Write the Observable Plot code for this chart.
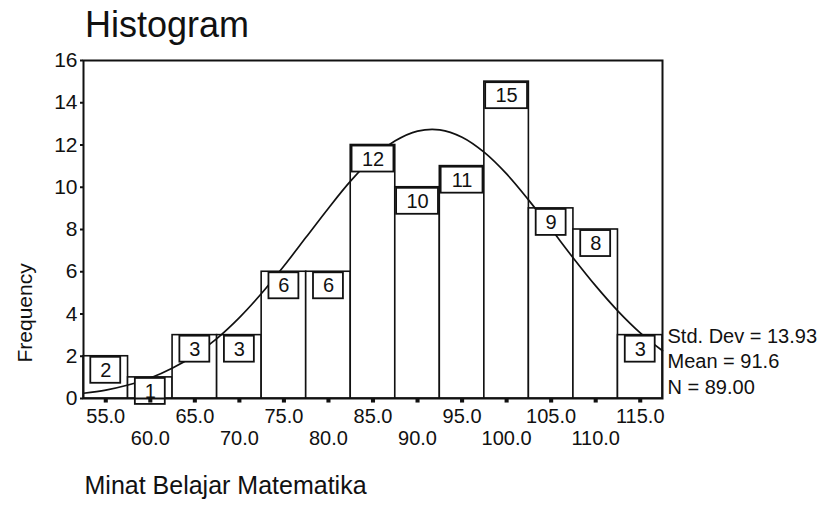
<!DOCTYPE html>
<html>
<head>
<meta charset="utf-8">
<script src="https://cdn.jsdelivr.net/npm/d3@7"></script>
<script src="https://cdn.jsdelivr.net/npm/@observablehq/plot@0.6"></script>
<style>
  body { margin: 0; background: white; font-family: "Liberation Sans", Arial, sans-serif; }
  #wrap { width: 833px; height: 507px; position: relative; overflow: hidden; }
  #title { height: 48px; position: relative; }
  #title span { position: absolute; left: 85px; top: 7px; font-size: 36px; line-height: 1; color: #111; }
</style>
</head>
<body>
<div id="wrap">
  <div id="title"><span>Histogram</span></div>
  <div id="chart"></div>
</div>
<script>
// ---- data ----
const binCenters = [55, 60, 65, 70, 75, 80, 85, 90, 95, 100, 105, 110, 115];
const counts     = [2, 1, 3, 3, 6, 6, 12, 10, 11, 15, 9, 8, 3];
const binWidth = 5;

const xTicksRow1 = [55, 65, 75, 85, 95, 105, 115];
const xTicksRow2 = [60, 70, 80, 90, 100, 110];
const yTicks = [0, 2, 4, 6, 8, 10, 12, 14, 16];

// normal curve
const curveX = [52.5, 55, 57.5, 60, 62.5, 65, 67.5, 70, 72.5, 75, 77.5, 80, 82.5, 85, 87.5, 90, 92.5, 95, 97.5, 100, 102.5, 105, 107.5, 110, 112.5, 115, 117.5];
const curveY = [0.25, 0.40, 0.64, 0.97, 1.44, 2.06, 2.85, 3.83, 4.98, 6.27, 7.64, 9.01, 10.30, 11.39, 12.20, 12.66, 12.72, 12.37, 11.65, 10.63, 9.38, 8.02, 6.64, 5.33, 4.14, 3.11, 2.26];

const statNames  = ["Std. Dev", "Mean", "N"];
const statValues = ["13.93", "91.6", "89.00"];

const yLabel = "Frequency";
const xLabel = "Minat Belajar Matematika";

// ---- build tables ----
const bars = binCenters.map((c, i) => ({center: c, count: counts[i]}));
const curve = curveX.map((x, i) => ({x, y: curveY[i]}));
const statsText = statNames.map((n, i) => `${n} = ${statValues[i]}`).join("\n");

const boxHalf = d => (String(d.count).length > 1 ? 2.35 : 1.68);
const boxHeight = 1.28;

const chart = Plot.plot({
  width: 833,
  height: 459,
  marginTop: 12,
  marginBottom: 109,
  marginLeft: 83,
  marginRight: 171,
  style: { fontFamily: '"Liberation Sans", Arial, sans-serif', fontSize: "20px", background: "white", color: "#111" },
  x: { domain: [52.5, 117.5] },
  y: { domain: [0, 16] },
  marks: [
    Plot.rect(bars, {
      x1: d => d.center - binWidth / 2,
      x2: d => d.center + binWidth / 2,
      y1: 0, y2: "count",
      fill: "white", stroke: "#111", strokeWidth: 1.6
    }),
    Plot.line(curve, { x: "x", y: "y", curve: "catmull-rom", stroke: "#111", strokeWidth: 1.7 }),
    Plot.rect(bars, {
      x1: d => d.center - boxHalf(d),
      x2: d => d.center + boxHalf(d),
      y1: d => d.count - 0.05,
      y2: d => d.count - boxHeight,
      fill: "white", stroke: "#111", strokeWidth: 1.8
    }),
    Plot.text(bars, {
      x: "center",
      y: d => d.count - boxHeight / 2 - 0.03,
      text: d => String(d.count),
      fontSize: 20, fill: "#111"
    }),
    Plot.frame({ stroke: "#111", strokeWidth: 2 }),
    Plot.dot(binCenters, { x: d => d, y: 0, symbol: "square", r: 2.3, fill: "#111", dy: 2 }),
    Plot.axisY(yTicks, { tickSize: 3, tickPadding: 3, tickFormat: d => String(d), label: null, strokeWidth: 2, fontSize: 21 }),
    Plot.axisX(xTicksRow1, { tickSize: 0, tickPadding: 10.5, tickFormat: d => d.toFixed(1), label: null }),
    Plot.axisX(xTicksRow2, { tickSize: 0, tickPadding: 32.5, tickFormat: d => d.toFixed(1), label: null }),
    Plot.text([yLabel], { text: d => d, frameAnchor: "left", rotate: -90, dx: -58, dy: 133, fontSize: 21 }),
    Plot.text([statsText], { text: d => d, frameAnchor: "bottom-right", textAnchor: "start", lineAnchor: "bottom", lineHeight: 1.27, dx: 5, dy: -5, fontSize: 20 }),
    Plot.text([xLabel], { text: d => d, frameAnchor: "bottom-left", textAnchor: "start", dx: 1, dy: 95, fontSize: 25 })
  ]
});
document.getElementById("chart").appendChild(chart);
</script>
</body>
</html>
